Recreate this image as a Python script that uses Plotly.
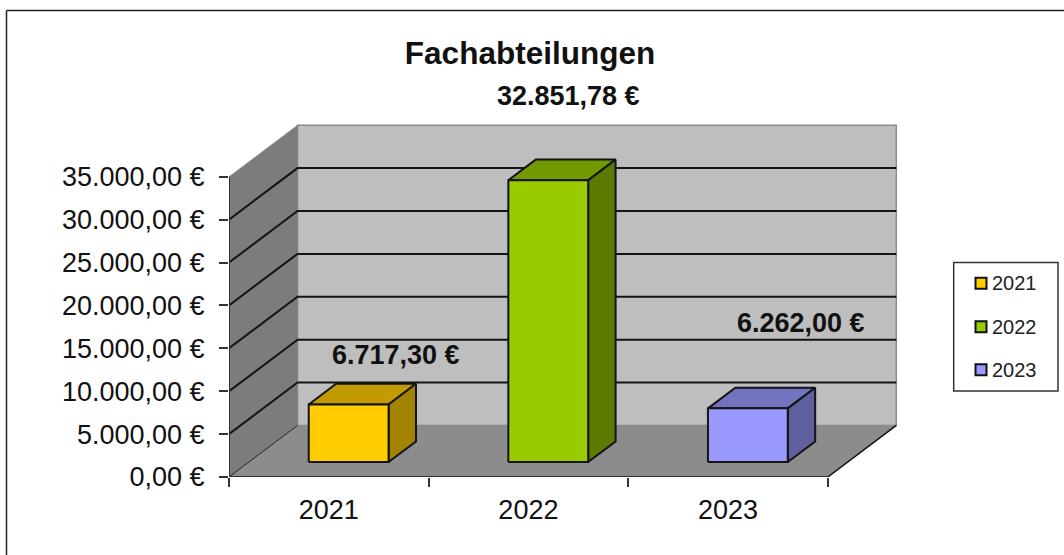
import plotly.graph_objects as go

# ---- data ----
years = ["2021", "2022", "2023"]
values = [6717.30, 32851.78, 6262.00]
y_ticks = [0, 5000, 10000, 15000, 20000, 25000, 30000, 35000]
y_tick_labels = ["0,00 €", "5.000,00 €", "10.000,00 €", "15.000,00 €", "20.000,00 €",
                 "25.000,00 €", "30.000,00 €", "35.000,00 €"]
title_text = "Fachabteilungen"

# ---- colours ----
front_colors = ["#FFCC00", "#99CC00", "#9999FF"]
top_colors = ["#C29B00", "#739900", "#7373BF"]
side_colors = ["#A38200", "#5C7A00", "#6060A0"]

# ---- page geometry (pixels) ----
W, H = 1064, 555
X0_PX, Y0_PX = 229.0, 476.7      # origin of the front plane
CAT_PX = 199.6                   # pixels per category
VAL_PX = 300.0 / 35000           # pixels per euro
DEPTH_DX_PX, DEPTH_DY_PX = 68.5, 51.5   # oblique offset of the full depth
RIGHT_PX, TOP_PX = float(W), 124.0      # plot area also holds the legend block

DX = DEPTH_DX_PX / CAT_PX        # depth offset in category units
DY = DEPTH_DY_PX / VAL_PX        # depth offset in euro units
XMAX = (RIGHT_PX - X0_PX) / CAT_PX
YMAX = (Y0_PX - TOP_PX) / VAL_PX
NCAT = len(years)
VMAX = y_ticks[-1]


def proj(cat, val, depth):
    """Oblique projection of (category, value, depth) to the 2D axes."""
    return cat + depth * DX, val + depth * DY


def px2data(px, py):
    return (px - X0_PX) / CAT_PX, (Y0_PX - py) / VAL_PX


def poly(points, fill, line_color=None, line_width=0, name=""):
    pts = [proj(*p) for p in points]
    xs = [p[0] for p in pts] + [pts[0][0]]
    ys = [p[1] for p in pts] + [pts[0][1]]
    return go.Scatter(x=xs, y=ys, mode="lines", fill="toself", fillcolor=fill,
                      line=dict(color=line_color or fill, width=line_width or 0.5),
                      hoverinfo="skip", showlegend=False, cliponaxis=False, name=name)


def seg(points, color, width):
    pts = [proj(*p) for p in points]
    return go.Scatter(x=[p[0] for p in pts], y=[p[1] for p in pts], mode="lines",
                      line=dict(color=color, width=width), hoverinfo="skip",
                      showlegend=False, cliponaxis=False)


fig = go.Figure()

# walls and floor
fig.add_trace(poly([(0, 0, 1), (NCAT, 0, 1), (NCAT, VMAX, 1), (0, VMAX, 1)], "#BEBEBE", "#8A8A8A", 1.5))
fig.add_trace(poly([(0, 0, 0), (0, 0, 1), (0, VMAX, 1), (0, VMAX, 0)], "#7C7C7C"))
fig.add_trace(poly([(0, 0, 0), (NCAT, 0, 0), (NCAT, 0, 1), (0, 0, 1)], "#8C8C8C"))

# gridlines across the side wall and back wall
for v in y_ticks[1:-1]:
    fig.add_trace(seg([(0, v, 0), (0, v, 1), (NCAT, v, 1)], "#141414", 2))

# floor edges and axis lines
fig.add_trace(seg([(0, 0, 0), (0, 0, 1)], "#222222", 1))
fig.add_trace(seg([(NCAT, 0, 0), (NCAT, 0, 1)], "#111111", 1.5))
fig.add_trace(seg([(0, 0, 0), (0, VMAX, 0)], "#333333", 2))
fig.add_trace(seg([(0, 0, 0), (NCAT, 0, 0)], "#333333", 2))

# bars
BAR_GAP, BAR_W = 0.3, 0.4
D0, D1 = 0.29, 0.69
for i, v in enumerate(values):
    a, b = i + BAR_GAP, i + BAR_GAP + BAR_W
    fig.add_trace(poly([(a, v, D0), (b, v, D0), (b, v, D1), (a, v, D1)], top_colors[i], "#141414", 2))
    fig.add_trace(poly([(b, 0, D0), (b, 0, D1), (b, v, D1), (b, v, D0)], side_colors[i], "#141414", 2))
    fig.add_trace(poly([(a, 0, D0), (b, 0, D0), (b, v, D0), (a, v, D0)], front_colors[i], "#141414", 2))


def de_money(v):
    s = f"{v:,.2f}".replace(",", "X").replace(".", ",").replace("X", ".")
    return s + " €"


PLOT_W = RIGHT_PX - X0_PX
PLOT_H = Y0_PX - TOP_PX


def paper_x(px):
    return (px - X0_PX) / PLOT_W


def paper_y(py):
    return (Y0_PX - py) / PLOT_H


label_centers_px = [(396, 355), (568, 96), (801, 323)]
annotations = []
for v, (px, py) in zip(values, label_centers_px):
    annotations.append(dict(x=paper_x(px), y=paper_y(py), xref="paper", yref="paper",
                            text=f"<b>{de_money(v)}</b>",
                            showarrow=False, xanchor="center", yanchor="middle",
                            font=dict(family="Liberation Sans", size=27, color="#111111")))

# legend, placed to the reference's pixel layout
LEG_L, LEG_R, LEG_T, LEG_B = 953.7, 1058.0, 262.3, 390.7
leg_rows_px = [283.0, 326.5, 369.5]
for i, y in enumerate(years):
    mx, my = px2data(981.0, leg_rows_px[i])
    fig.add_trace(go.Scatter(x=[mx], y=[my], mode="markers", name=y, showlegend=False, cliponaxis=False,
                             hoverinfo="skip",
                             marker=dict(symbol="square", size=11, color=front_colors[i],
                                         line=dict(color="#111111", width=2))))
    annotations.append(dict(x=paper_x(989.5), y=paper_y(leg_rows_px[i]), xref="paper", yref="paper",
                            text=y, showarrow=False, xanchor="left", yanchor="middle",
                            font=dict(family="Liberation Sans", size=20, color="#222222")))

border = dict(color="#222222", width=1.5)
shapes = [
    dict(type="line", xref="paper", yref="paper", x0=paper_x(6.5), x1=paper_x(W),
         y0=paper_y(10.5), y1=paper_y(10.5), line=border),
    dict(type="line", xref="paper", yref="paper", x0=paper_x(6.5), x1=paper_x(6.5),
         y0=paper_y(10.5), y1=paper_y(H), line=border),
    dict(type="rect", xref="paper", yref="paper", x0=paper_x(LEG_L), x1=paper_x(LEG_R),
         y0=paper_y(LEG_B), y1=paper_y(LEG_T), line=dict(color="#333333", width=1.5), layer="below"),
]

fig.update_layout(
    width=W, height=H,
    margin=dict(l=X0_PX, r=W - RIGHT_PX, t=TOP_PX, b=H - Y0_PX, pad=0, autoexpand=False),
    paper_bgcolor="white", plot_bgcolor="rgba(0,0,0,0)",
    font=dict(family="Liberation Sans", color="#111111"),
    title=dict(text=f"<b>{title_text}</b>", x=530 / W, xanchor="center",
               y=1 - 53 / H, yanchor="middle", xref="container", yref="container",
               font=dict(family="Liberation Sans", size=31.5, color="#111111")),
    xaxis=dict(range=[0, XMAX], tickvals=[0.5, 1.5, 2.5], ticktext=years, ticks="", showgrid=False,
               zeroline=False, showline=False, tickfont=dict(size=27), ticklabelstandoff=14,
               minor=dict(tickvals=list(range(NCAT + 1)), ticks="outside", ticklen=9,
                          tickwidth=1.5, tickcolor="#333333", showgrid=False)),
    yaxis=dict(range=[0, YMAX], tickvals=y_ticks, ticktext=y_tick_labels, ticks="outside", ticklen=9,
               tickwidth=1.5, tickcolor="#333333", showgrid=False, zeroline=False, showline=False,
               tickfont=dict(size=27), ticklabelstandoff=9),
    showlegend=False,
    annotations=annotations,
    shapes=shapes,
)

fig.write_html("out.html", config=dict(displayModeBar=False),
               post_script="document.body.style.margin='0';document.documentElement.style.overflow='hidden';")
